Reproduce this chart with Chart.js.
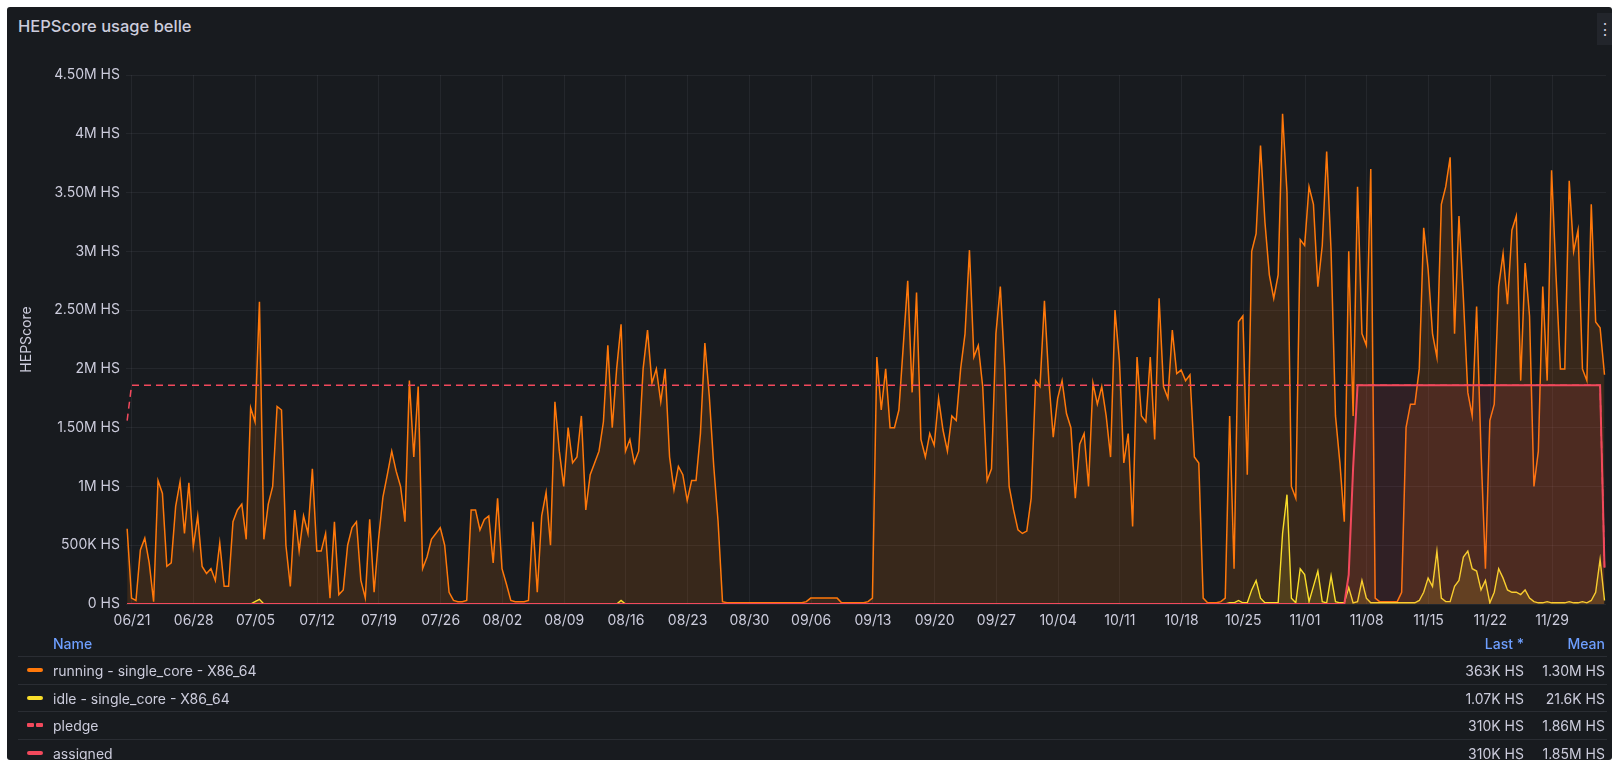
<!DOCTYPE html>
<html>
<head>
<meta charset="utf-8">
<title>HEPScore usage belle</title>
<script src="https://cdn.jsdelivr.net/npm/chart.js@4.4.0/dist/chart.umd.min.js"></script>
<style>
html, body { margin: 0; padding: 0; background: #ffffff; width: 1612px; height: 760px; overflow: hidden; font-family: Inter, "Noto Sans", sans-serif; }
#panel { position: absolute; left: 7px; top: 7px; width: 1605px; height: 753px; background: #181b1f; border-radius: 3px; }
#title { position: absolute; left: 18px; top: 16px; color: #ccccdc; font-size: 16.5px; font-weight: 500; }
#menu { position: absolute; left: 1597px; top: 13px; width: 15px; height: 32px; background: #22252b; color: #ccccdc; font-size: 16px; line-height: 32px; text-align: center; }
#chart { position: absolute; left: 0; top: 0; }
#legend { position: absolute; left: 0; top: 630px; width: 1612px; height: 130px; color: #ccccdc; font-size: 14px; }
.row { position: absolute; left: 18px; width: 1589px; border-top: 1px solid #2a2d33; box-sizing: border-box; }
.head { color: #6e9fff; font-weight: 500; border-top: none; }
.row span { position: absolute; top: 50%; transform: translateY(-50%); white-space: nowrap; }
.icon { left: 9px; width: 16px; height: 4px; border-radius: 2px; }
.dash { left: 9px; width: 16px; height: 4px; }
.dash i { position: absolute; top: 0; width: 7px; height: 4px; border-radius: 1px; }
.name { left: 35px; }
.last { right: 83px; }
.mean { right: 2px; }
</style>
</head>
<body>
<div id="panel"></div>
<div id="title">HEPScore usage belle</div>
<div id="menu">&#8942;</div>
<canvas id="chart" width="1612" height="640"></canvas>
<div id="legend"></div>
<script>
// time axis: days after 06/21, one point every half day
var startDay = -0.55;
var stepDay = 0.5;
var xTickLabels = ['06/21', '06/28', '07/05', '07/12', '07/19', '07/26', '08/02', '08/09', '08/16', '08/23', '08/30', '09/06',
    '09/13', '09/20', '09/27', '10/04', '10/11', '10/18', '10/25', '11/01', '11/08', '11/15', '11/22', '11/29'];
var yTickLabels = ['0 HS', '500K HS', '1M HS', '1.50M HS', '2M HS', '2.50M HS', '3M HS', '3.50M HS', '4M HS', '4.50M HS'];

// values in millions of HS
var running = [
    0.64,0.05,0.03,0.46,0.56,0.35,0.02,1.05,0.94,0.32,0.35,0.83,1.04,0.6,1.03,0.49,0.75,0.32,0.26,0.3,
    0.2,0.52,0.15,0.15,0.7,0.8,0.85,0.55,1.67,1.55,2.57,0.55,0.85,1.0,1.68,1.65,0.5,0.15,0.8,0.45,
    0.75,0.6,1.15,0.45,0.45,0.6,0.05,0.7,0.08,0.12,0.5,0.65,0.7,0.2,0.05,0.72,0.1,0.55,0.91,1.1,
    1.3,1.13,1.0,0.7,1.9,1.25,1.85,0.3,0.4,0.55,0.6,0.65,0.5,0.1,0.03,0.02,0.02,0.03,0.8,0.8,
    0.63,0.72,0.75,0.35,0.9,0.3,0.17,0.03,0.02,0.02,0.02,0.03,0.7,0.1,0.75,0.95,0.5,1.72,1.3,1.0,
    1.5,1.2,1.25,1.6,0.8,1.1,1.2,1.3,1.55,2.2,1.5,2.0,2.38,1.3,1.4,1.2,1.3,2.0,2.33,1.88,
    2.0,1.72,2.0,1.25,0.97,1.17,1.1,0.88,1.05,1.05,1.45,2.22,1.77,1.18,0.7,0.02,0.01,0.01,0.01,0.01,
    0.01,0.01,0.01,0.01,0.01,0.01,0.01,0.01,0.01,0.01,0.01,0.01,0.01,0.01,0.02,0.05,0.05,0.05,0.05,0.05,
    0.05,0.05,0.01,0.01,0.01,0.01,0.01,0.01,0.02,0.05,2.1,1.65,2.0,1.5,1.5,1.65,2.2,2.75,1.8,2.65,
    1.4,1.25,1.45,1.35,1.75,1.48,1.3,1.6,1.56,2.0,2.3,3.01,2.1,2.2,1.85,1.05,1.15,2.3,2.7,2.0,
    1.0,0.8,0.63,0.6,0.62,0.9,1.9,1.85,2.58,1.9,1.42,1.75,1.9,1.62,1.5,0.9,1.36,1.45,1.0,1.88,
    1.7,1.85,1.6,1.25,2.5,2.07,1.2,1.45,0.66,2.1,1.6,1.55,2.1,1.4,2.6,1.85,1.75,2.33,1.96,1.99,
    1.9,1.95,1.25,1.2,0.05,0.01,0.01,0.01,0.02,0.05,1.6,0.3,2.4,2.45,1.1,3.0,3.15,3.9,3.25,2.8,
    2.6,2.8,4.17,3.5,1.0,0.9,3.1,3.05,3.55,3.4,2.7,3.05,3.85,3.0,1.6,1.2,0.7,3.0,1.6,3.55,
    2.3,2.2,3.7,0.05,0.02,0.02,0.02,0.02,0.02,0.1,1.5,1.7,1.7,2.0,3.2,2.85,2.3,2.1,3.4,3.55,
    3.8,2.3,3.3,2.6,1.8,1.6,2.53,1.3,0.3,1.56,1.7,2.7,2.98,2.55,3.18,3.3,1.9,2.9,2.45,1.0,
    1.3,2.7,1.9,3.69,2.8,2.0,2.0,3.6,3.0,3.18,2.0,1.9,3.4,2.4,2.35,1.95
];
var idle = [
    0,0,0,0,0,0,0,0,0,0,0,0,0,0,0,0,0,0,0,0,
    0,0,0,0,0,0,0,0,0,0.02,0.04,0,0,0,0,0,0,0,0,0,
    0,0,0,0,0,0,0,0,0,0,0,0,0,0,0,0,0,0,0,0,
    0,0,0,0,0,0,0,0,0,0,0,0,0,0,0,0,0,0,0,0,
    0,0,0,0,0,0,0,0,0,0,0,0,0,0,0,0,0,0,0,0,
    0,0,0,0,0,0,0,0,0,0,0,0,0.03,0,0,0,0,0,0,0,
    0,0,0,0,0,0,0,0,0,0,0,0,0,0,0,0,0,0,0,0,
    0,0,0,0,0,0,0,0,0,0,0,0,0,0,0,0,0,0,0,0,
    0,0,0,0,0,0,0,0,0,0,0,0,0,0,0,0,0,0,0,0,
    0,0,0,0,0,0,0,0,0,0,0,0,0,0,0,0,0,0,0,0,
    0,0,0,0,0,0,0,0,0,0,0,0,0,0,0,0,0,0,0,0,
    0,0,0,0,0,0,0,0,0,0,0,0,0,0,0,0,0,0,0,0,
    0,0,0,0,0,0,0,0,0,0,0.01,0.01,0.03,0.01,0.01,0.12,0.2,0.05,0.01,0.01,
    0.01,0.01,0.6,0.93,0.05,0.01,0.3,0.25,0.02,0.15,0.28,0.02,0.01,0.24,0.02,0.01,0.01,0.14,0.01,0.02,
    0.2,0.05,0.01,0.01,0.01,0.01,0.01,0.01,0.01,0.01,0.01,0.01,0.01,0.03,0.1,0.22,0.15,0.45,0.05,0.02,
    0.02,0.15,0.2,0.4,0.45,0.3,0.28,0.12,0.2,0.01,0.1,0.3,0.22,0.12,0.1,0.1,0.08,0.12,0.05,0.02,
    0.01,0.01,0.02,0.01,0.01,0.01,0.01,0.02,0.01,0.01,0.02,0.01,0.03,0.1,0.38,0.03
];
var pledge = [
    1.56,1.86,1.86,1.86,1.86,1.86,1.86,1.86,1.86,1.86,1.86,1.86,1.86,1.86,1.86,1.86,1.86,1.86,1.86,1.86,
    1.86,1.86,1.86,1.86,1.86,1.86,1.86,1.86,1.86,1.86,1.86,1.86,1.86,1.86,1.86,1.86,1.86,1.86,1.86,1.86,
    1.86,1.86,1.86,1.86,1.86,1.86,1.86,1.86,1.86,1.86,1.86,1.86,1.86,1.86,1.86,1.86,1.86,1.86,1.86,1.86,
    1.86,1.86,1.86,1.86,1.86,1.86,1.86,1.86,1.86,1.86,1.86,1.86,1.86,1.86,1.86,1.86,1.86,1.86,1.86,1.86,
    1.86,1.86,1.86,1.86,1.86,1.86,1.86,1.86,1.86,1.86,1.86,1.86,1.86,1.86,1.86,1.86,1.86,1.86,1.86,1.86,
    1.86,1.86,1.86,1.86,1.86,1.86,1.86,1.86,1.86,1.86,1.86,1.86,1.86,1.86,1.86,1.86,1.86,1.86,1.86,1.86,
    1.86,1.86,1.86,1.86,1.86,1.86,1.86,1.86,1.86,1.86,1.86,1.86,1.86,1.86,1.86,1.86,1.86,1.86,1.86,1.86,
    1.86,1.86,1.86,1.86,1.86,1.86,1.86,1.86,1.86,1.86,1.86,1.86,1.86,1.86,1.86,1.86,1.86,1.86,1.86,1.86,
    1.86,1.86,1.86,1.86,1.86,1.86,1.86,1.86,1.86,1.86,1.86,1.86,1.86,1.86,1.86,1.86,1.86,1.86,1.86,1.86,
    1.86,1.86,1.86,1.86,1.86,1.86,1.86,1.86,1.86,1.86,1.86,1.86,1.86,1.86,1.86,1.86,1.86,1.86,1.86,1.86,
    1.86,1.86,1.86,1.86,1.86,1.86,1.86,1.86,1.86,1.86,1.86,1.86,1.86,1.86,1.86,1.86,1.86,1.86,1.86,1.86,
    1.86,1.86,1.86,1.86,1.86,1.86,1.86,1.86,1.86,1.86,1.86,1.86,1.86,1.86,1.86,1.86,1.86,1.86,1.86,1.86,
    1.86,1.86,1.86,1.86,1.86,1.86,1.86,1.86,1.86,1.86,1.86,1.86,1.86,1.86,1.86,1.86,1.86,1.86,1.86,1.86,
    1.86,1.86,1.86,1.86,1.86,1.86,1.86,1.86,1.86,1.86,1.86,1.86,1.86,1.86,1.86,1.86,1.86,1.86,1.86,1.86,
    1.86,1.86,1.86,1.86,1.86,1.86,1.86,1.86,1.86,1.86,1.86,1.86,1.86,1.86,1.86,1.86,1.86,1.86,1.86,1.86,
    1.86,1.86,1.86,1.86,1.86,1.86,1.86,1.86,1.86,1.86,1.86,1.86,1.86,1.86,1.86,1.86,1.86,1.86,1.86,1.86,
    1.86,1.86,1.86,1.86,1.86,1.86,1.86,1.86,1.86,1.86,1.86,1.86,1.86,1.86,1.86,0.31
];
var assigned = [
    0,0,0,0,0,0,0,0,0,0,0,0,0,0,0,0,0,0,0,0,
    0,0,0,0,0,0,0,0,0,0,0,0,0,0,0,0,0,0,0,0,
    0,0,0,0,0,0,0,0,0,0,0,0,0,0,0,0,0,0,0,0,
    0,0,0,0,0,0,0,0,0,0,0,0,0,0,0,0,0,0,0,0,
    0,0,0,0,0,0,0,0,0,0,0,0,0,0,0,0,0,0,0,0,
    0,0,0,0,0,0,0,0,0,0,0,0,0,0,0,0,0,0,0,0,
    0,0,0,0,0,0,0,0,0,0,0,0,0,0,0,0,0,0,0,0,
    0,0,0,0,0,0,0,0,0,0,0,0,0,0,0,0,0,0,0,0,
    0,0,0,0,0,0,0,0,0,0,0,0,0,0,0,0,0,0,0,0,
    0,0,0,0,0,0,0,0,0,0,0,0,0,0,0,0,0,0,0,0,
    0,0,0,0,0,0,0,0,0,0,0,0,0,0,0,0,0,0,0,0,
    0,0,0,0,0,0,0,0,0,0,0,0,0,0,0,0,0,0,0,0,
    0,0,0,0,0,0,0,0,0,0,0,0,0,0,0,0,0,0,0,0,
    0,0,0,0,0,0,0,0,0,0,0,0,0,0,0,0,0,0.25,1.16,1.86,
    1.86,1.86,1.86,1.86,1.86,1.86,1.86,1.86,1.86,1.86,1.86,1.86,1.86,1.86,1.86,1.86,1.86,1.86,1.86,1.86,
    1.86,1.86,1.86,1.86,1.86,1.86,1.86,1.86,1.86,1.86,1.86,1.86,1.86,1.86,1.86,1.86,1.86,1.86,1.86,1.86,
    1.86,1.86,1.86,1.86,1.86,1.86,1.86,1.86,1.86,1.86,1.86,1.86,1.86,1.86,1.86,0.31
];

// legend table text
var seriesNames = ['running - single_core - X86_64', 'idle - single_core - X86_64', 'pledge', 'assigned'];
var lastValues = ['363K HS', '1.07K HS', '310K HS', '310K HS'];
var meanValues = ['1.30M HS', '21.6K HS', '1.86M HS', '1.85M HS'];
var seriesColors = ['#ff780a', '#fade2a', '#f2495c', '#f2495c'];

function toPoints(values) // pair each value with its day
{
    var pts = [];
    for (var i = 0; i < values.length; i++) {
        pts.push({ x: startDay + i * stepDay, y: values[i] });
    }
    return pts;
}

function buildLegend()
{
    var box = document.getElementById('legend');
    var html = '<div class="row head" style="top:0;height:26px"><span class="name">Name</span>' +
        '<span class="last">Last *</span><span class="mean">Mean</span></div>';
    for (var i = 0; i < seriesNames.length; i++) {
        var top = 26 + i * 27.6;
        var icon;
        if (i == 2) {
            icon = '<span class="dash"><i style="left:0;background:' + seriesColors[i] + '"></i>' +
                '<i style="left:9px;background:' + seriesColors[i] + '"></i></span>';
        } else {
            icon = '<span class="icon" style="background:' + seriesColors[i] + '"></span>';
        }
        html += '<div class="row" style="top:' + top + 'px;height:27.6px">' + icon +
            '<span class="name">' + seriesNames[i] + '</span>' +
            '<span class="last">' + lastValues[i] + '</span>' +
            '<span class="mean">' + meanValues[i] + '</span></div>';
    }
    box.innerHTML = html;
}

Chart.defaults.font.family = 'Inter';
Chart.defaults.color = '#ccccdc';

var gridColor = 'rgba(204,204,220,0.07)';

new Chart(document.getElementById('chart'), {
    type: 'line',
    data: {
        datasets: [
            { label: seriesNames[0], data: toPoints(running), borderColor: '#ff780a', borderWidth: 1.5,
              backgroundColor: 'rgba(255,120,10,0.14)', fill: 'origin', order: 4 },
            { label: seriesNames[1], data: toPoints(idle), borderColor: '#fade2a', borderWidth: 1.4,
              backgroundColor: 'rgba(250,222,42,0.13)', fill: 'origin', order: 3 },
            { label: seriesNames[2], data: toPoints(pledge), borderColor: '#f2495c', borderWidth: 1.5,
              borderDash: [7, 5], fill: false, order: 2 },
            { label: seriesNames[3], data: toPoints(assigned), borderColor: '#f2495c', borderWidth: 2,
              backgroundColor: 'rgba(242,73,92,0.11)', fill: 'origin', order: 1 }
        ]
    },
    options: {
        responsive: false,
        animation: false,
        devicePixelRatio: 1,
        layout: { padding: { left: 7, right: 6, top: 75, bottom: 0 } },
        elements: { point: { radius: 0 }, line: { tension: 0 } },
        plugins: { legend: { display: false }, tooltip: { enabled: false } },
        scales: {
            x: {
                type: 'linear',
                min: -0.68,
                max: 167.12,
                border: { display: false },
                grid: { color: gridColor, drawTicks: false },
                ticks: {
                    stepSize: 7, includeBounds: false, autoSkip: false, maxRotation: 0,
                    padding: 8, color: '#ccccdc', font: { size: 14 },
                    callback: function (v) { return xTickLabels[Math.round(v / 7)]; }
                },
                afterFit: function (s) { s.height = 36; }
            },
            y: {
                min: 0,
                max: 4.5,
                border: { display: false },
                grid: { color: gridColor, drawTicks: false },
                ticks: {
                    stepSize: 0.5, padding: 6, color: '#ccccdc', font: { size: 14 },
                    callback: function (v) { return yTickLabels[Math.round(v * 2)]; }
                },
                title: { display: true, text: 'HEPScore', color: '#ccccdc', font: { size: 14 }, padding: { top: 11, bottom: 0 } },
                afterFit: function (s) { s.width = 119; }
            }
        }
    }
});

buildLegend();
</script>
</body>
</html>
